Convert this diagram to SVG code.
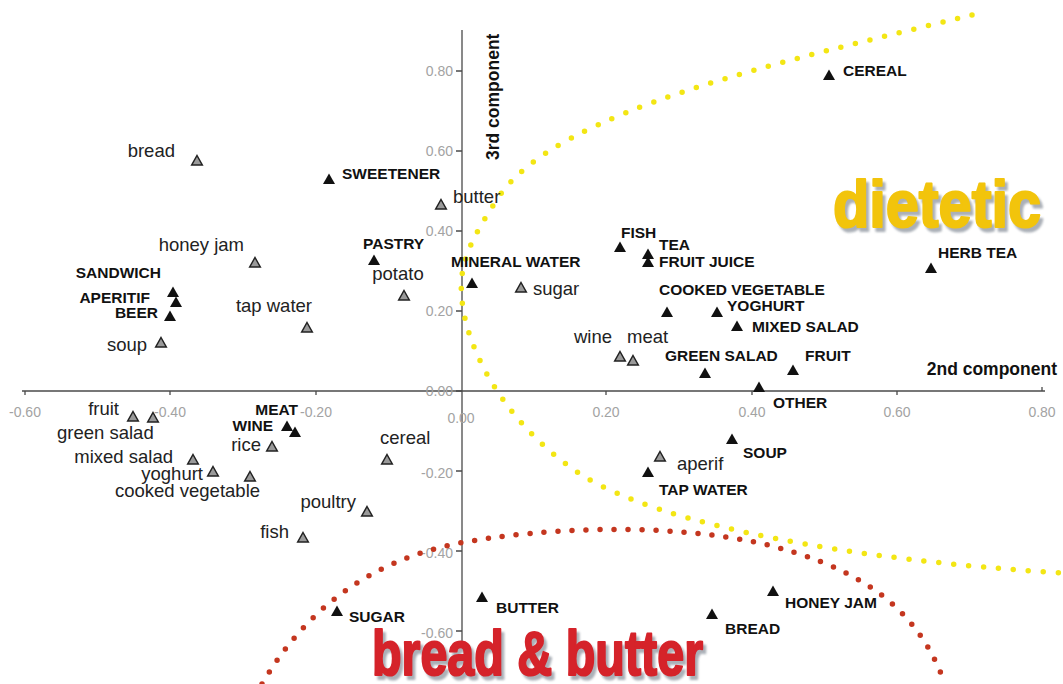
<svg xmlns="http://www.w3.org/2000/svg" width="1063" height="684" viewBox="0 0 1063 684">
  <defs>
    <style>
      .lc{font-family:"Liberation Sans",Arial,sans-serif;font-size:18.5px;fill:#222}
      .uc{font-family:"Liberation Sans",Arial,sans-serif;font-size:15.5px;font-weight:bold;fill:#111}
      .tk{font-family:"Liberation Sans",Arial,sans-serif;font-size:14px;fill:#a3a3a3}
      .tx{text-anchor:middle}
      .ty{text-anchor:end}
      .axt{font-family:"Liberation Sans",Arial,sans-serif;font-size:17.5px;font-weight:bold;fill:#111}
      .big{font-family:"Liberation Sans",Arial,sans-serif;font-weight:bold;stroke-width:2.2;stroke-linejoin:round}
      .e{text-anchor:end}
      .m{text-anchor:middle}
      .axis{stroke:#4a4a4a;stroke-width:1.3;fill:none}
      .dotY{fill:none;stroke:#f3e614;stroke-width:5.5;stroke-linecap:round;stroke-dasharray:0 15}
      .dotR{fill:none;stroke:#c4361f;stroke-width:5.5;stroke-linecap:round;stroke-dasharray:0 14}
    </style>
    <!-- filled marker for categories in capitals -->
    <path id="tb" d="M0,-6.5 L6,4 L-6,4Z" fill="#111"/>
    <!-- open grey marker for lower-case categories -->
    <path id="tg" d="M0,-5.5 L5.3,4 L-5.3,4Z" fill="#9a9a9a" stroke="#222" stroke-width="1.5" stroke-linejoin="miter"/>
    <filter id="soft" x="-5%" y="-20%" width="110%" height="140%">
      <feGaussianBlur stdDeviation="1.3"/>
    </filter>
  </defs>

  <rect width="1063" height="684" fill="#fff"/>

  <!-- axes -->
  <g id="axes">
    <line class="axis" x1="22" y1="391" x2="1045" y2="391"/>
    <line class="axis" x1="462" y1="30" x2="462" y2="646"/>
    <g class="axis">
      <path d="M25,391v4 M170,391v4 M316,391v4 M606,391v4 M752,391v4 M897,391v4 M1042,391v-4"/>
      <path d="M456,71h6 M456,151h6 M456,231h6 M456,311h6 M456,391h6 M456,471h6 M456,551h6 M456,631h6"/>
    </g>
    <g class="tk tx">
      <text x="25" y="417">-0.60</text>
      <text x="170" y="417">-0.40</text>
      <text x="316" y="417">-0.20</text>
      <text x="461" y="423">0.00</text>
      <text x="606" y="417">0.20</text>
      <text x="752" y="417">0.40</text>
      <text x="897" y="417">0.60</text>
      <text x="1042" y="417">0.80</text>
    </g>
    <g class="tk ty">
      <text x="453" y="76">0.80</text>
      <text x="453" y="156">0.60</text>
      <text x="453" y="236">0.40</text>
      <text x="453" y="316">0.20</text>
      <text x="453" y="396">0.00</text>
      <text x="453" y="478">-0.20</text>
      <text x="453" y="558">-0.40</text>
      <text x="453" y="638">-0.60</text>
    </g>
    <text class="axt" x="1057" y="375" text-anchor="end">2nd component</text>
    <text class="axt" transform="translate(499,160) rotate(-90)">3rd component</text>
  </g>

  <!-- cluster boundaries -->
  <g id="connectors">
    <path id="dietetic-boundary" class="dotY" d="M972,15 C780,62 560,110 500,195 C470,240 458,265 462,300 C466,345 500,420 580,474 C660,525 850,560 1063,573"/>
    <path id="bread-butter-boundary" class="dotR" d="M262,684 C305,610 370,560 460,543 C540,528 660,522 760,543 C850,565 915,600 945,684"/>
  </g>

  <!-- cluster titles -->
  <g id="title-dietetic">
    <text class="big" x="836" y="231" font-size="66" fill="#8f96a0" stroke="#8f96a0" opacity="0.75" filter="url(#soft)" textLength="208" lengthAdjust="spacingAndGlyphs">dietetic</text>
    <text class="big" x="833" y="227" font-size="66" fill="#f2c40c" stroke="#f2c40c" textLength="208" lengthAdjust="spacingAndGlyphs">dietetic</text>
  </g>
  <g id="title-bread-butter">
    <text class="big" x="375" y="679" font-size="63" fill="#8f96a0" stroke="#8f96a0" opacity="0.75" filter="url(#soft)" textLength="331" lengthAdjust="spacingAndGlyphs">bread &amp; butter</text>
    <text class="big" x="372" y="675" font-size="63" fill="#d5232a" stroke="#d5232a" textLength="331" lengthAdjust="spacingAndGlyphs">bread &amp; butter</text>
  </g>

  <!-- lower-case categories -->
  <g id="n-bread"><use href="#tg" x="197" y="161"/><text class="lc e" x="175" y="157">bread</text></g>
  <g id="n-honey-jam"><use href="#tg" x="255" y="263"/><text class="lc e" x="244" y="251">honey jam</text></g>
  <g id="n-tap-water"><use href="#tg" x="307" y="328"/><text class="lc e" x="312" y="312">tap water</text></g>
  <g id="n-soup"><use href="#tg" x="161" y="343"/><text class="lc e" x="147" y="351">soup</text></g>
  <g id="n-butter"><use href="#tg" x="441" y="205"/><text class="lc" x="453" y="203">butter</text></g>
  <g id="n-potato"><use href="#tg" x="404" y="296"/><text class="lc m" x="398" y="280">potato</text></g>
  <g id="n-sugar"><use href="#tg" x="521" y="288"/><text class="lc" x="533" y="295">sugar</text></g>
  <g id="n-wine"><use href="#tg" x="620" y="357"/><text class="lc e" x="612" y="343">wine</text></g>
  <g id="n-meat"><use href="#tg" x="633" y="361"/><text class="lc" x="627" y="343">meat</text></g>
  <g id="n-aperif"><use href="#tg" x="660" y="457"/><text class="lc" x="677" y="470">aperif</text></g>
  <g id="n-fruit"><use href="#tg" x="133" y="417"/><text class="lc e" x="119" y="415">fruit</text></g>
  <g id="n-green-salad"><use href="#tg" x="153" y="418"/><text class="lc" x="57" y="439">green salad</text></g>
  <g id="n-mixed-salad"><use href="#tg" x="193" y="460"/><text class="lc e" x="173" y="463">mixed salad</text></g>
  <g id="n-yoghurt"><use href="#tg" x="213" y="472"/><text class="lc e" x="203" y="480">yoghurt</text></g>
  <g id="n-cooked-vegetable"><use href="#tg" x="250" y="477"/><text class="lc" x="115" y="497">cooked vegetable</text></g>
  <g id="n-rice"><use href="#tg" x="272" y="447"/><text class="lc e" x="261" y="451">rice</text></g>
  <g id="n-cereal"><use href="#tg" x="387" y="460"/><text class="lc" x="380" y="444">cereal</text></g>
  <g id="n-poultry"><use href="#tg" x="367" y="512"/><text class="lc e" x="356" y="508">poultry</text></g>
  <g id="n-fish"><use href="#tg" x="303" y="538"/><text class="lc e" x="289" y="538">fish</text></g>

  <!-- capitalised categories -->
  <g id="N-CEREAL"><use href="#tb" x="829" y="76"/><text class="uc" x="843" y="76">CEREAL</text></g>
  <g id="N-SWEETENER"><use href="#tb" x="329" y="180"/><text class="uc" x="342" y="179">SWEETENER</text></g>
  <g id="N-PASTRY"><use href="#tb" x="374" y="261"/><text class="uc" x="363" y="249">PASTRY</text></g>
  <g id="N-MINERAL-WATER"><use href="#tb" x="472" y="284"/><text class="uc" x="451" y="267">MINERAL WATER</text></g>
  <g id="N-SANDWICH"><use href="#tb" x="173" y="293"/><text class="uc e" x="161" y="278">SANDWICH</text></g>
  <g id="N-APERITIF"><use href="#tb" x="176" y="303"/><text class="uc e" x="150" y="303">APERITIF</text></g>
  <g id="N-BEER"><use href="#tb" x="170" y="317"/><text class="uc e" x="158" y="318">BEER</text></g>
  <g id="N-FISH"><use href="#tb" x="620" y="248"/><text class="uc" x="621" y="238">FISH</text></g>
  <g id="N-TEA"><use href="#tb" x="648" y="255"/><text class="uc" x="659" y="250">TEA</text></g>
  <g id="N-FRUIT-JUICE"><use href="#tb" x="648" y="263"/><text class="uc" x="659" y="267">FRUIT JUICE</text></g>
  <g id="N-COOKED-VEGETABLE"><use href="#tb" x="667" y="313"/><text class="uc" x="659" y="295">COOKED VEGETABLE</text></g>
  <g id="N-YOGHURT"><use href="#tb" x="717" y="313"/><text class="uc" x="727" y="311">YOGHURT</text></g>
  <g id="N-MIXED-SALAD"><use href="#tb" x="737" y="327"/><text class="uc" x="752" y="332">MIXED SALAD</text></g>
  <g id="N-GREEN-SALAD"><use href="#tb" x="705" y="374"/><text class="uc" x="665" y="361">GREEN SALAD</text></g>
  <g id="N-FRUIT"><use href="#tb" x="793" y="371"/><text class="uc" x="805" y="361">FRUIT</text></g>
  <g id="N-OTHER"><use href="#tb" x="759" y="388"/><text class="uc" x="773" y="408">OTHER</text></g>
  <g id="N-HERB-TEA"><use href="#tb" x="931" y="269"/><text class="uc" x="938" y="258">HERB TEA</text></g>
  <g id="N-MEAT"><use href="#tb" x="287" y="427"/><text class="uc e" x="298" y="415">MEAT</text></g>
  <g id="N-WINE"><use href="#tb" x="295" y="433"/><text class="uc e" x="273" y="431">WINE</text></g>
  <g id="N-SOUP"><use href="#tb" x="732" y="440"/><text class="uc" x="743" y="458">SOUP</text></g>
  <g id="N-TAP-WATER"><use href="#tb" x="648" y="473"/><text class="uc" x="659" y="495">TAP WATER</text></g>
  <g id="N-HONEY-JAM"><use href="#tb" x="773" y="592"/><text class="uc" x="785" y="608">HONEY JAM</text></g>
  <g id="N-BREAD"><use href="#tb" x="712" y="615"/><text class="uc" x="725" y="634">BREAD</text></g>
  <g id="N-BUTTER"><use href="#tb" x="482" y="598"/><text class="uc" x="496" y="613">BUTTER</text></g>
  <g id="N-SUGAR"><use href="#tb" x="337" y="612"/><text class="uc" x="349" y="622">SUGAR</text></g>
</svg>
